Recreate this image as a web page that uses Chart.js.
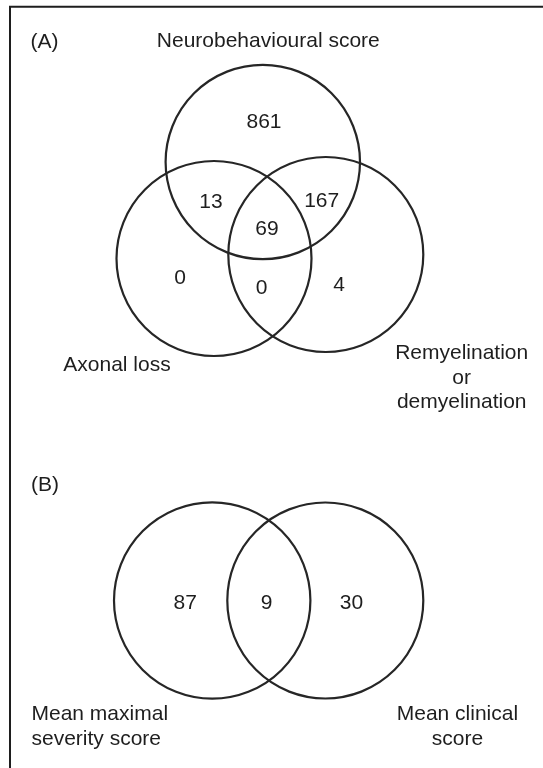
<!DOCTYPE html>
<html>
<head>
<meta charset="utf-8">
<script src="https://cdn.jsdelivr.net/npm/chart.js@4/dist/chart.umd.min.js"></script>
<style>
body { margin: 0; background: #fff; }
canvas { display: block; }
</style>
</head>
<body>
<canvas id="venn" width="543" height="768"></canvas>
<script>
// Panel A: counts per region
const regionsA = ['N only', 'N + A', 'N + R', 'N + A + R', 'A only', 'A + R', 'R only'];
const countsA = [861, 13, 167, 69, 0, 0, 4];
const setsA = ['Neurobehavioural score', 'Axonal loss', 'Remyelination\nor\ndemyelination'];

// Panel B: counts per region
const regionsB = ['MMS only', 'MMS + MCS', 'MCS only'];
const countsB = [87, 9, 30];
const setsB = ['Mean maximal\nseverity score', 'Mean clinical\nscore'];

const panelTitles = ['(A)', '(B)'];

// layout, in scale units (scales map 1:1 onto the page)
const circlesA = [{x: 262.8, y: 162, r: 97.2}, {x: 214, y: 258.5, r: 97.5}, {x: 325.8, y: 254.5, r: 97.5}];
const circlesB = [{x: 212.2, y: 600.5, r: 98.2}, {x: 325.3, y: 600.5, r: 98}];
// label anchors are the middle of the capital height
const countPosA = [[264, 120.7], [211, 200.7], [321.7, 199.3], [267, 227.3], [180, 276.7], [261.7, 286], [339, 283.3]];
const countPosB = [[185.2, 601.7], [266.6, 601.7], [351.5, 601.7]];
const setPosA = [[268.3, 39.7], [117, 363.7], [461.7, 351.2]];
const setPosB = [[31.5, 712.2], [457.4, 712.2]];
const titlePos = [[44.5, 40], [45, 483.3]];

const ink = '#1e1e1e';
const fontSize = 21;
const font = fontSize + 'px "Liberation Sans", Arial, sans-serif';
const capHalf = 0.716 * fontSize / 2;

const toPoints = (pos) => pos.map(p => ({x: p[0], y: p[1]}));

const textDataset = (pos, texts, extra) => Object.assign({
    type: 'scatter',
    data: toPoints(pos),
    texts: texts,
    pointRadius: 0,
    lineHeight: 25,
    clip: false
}, extra || {});

// draws the labels at the points the scales gave to each text dataset
const textPlugin = {
    id: 'vennText',
    afterDatasetsDraw(chart) {
        const ctx = chart.ctx;
        chart.data.datasets.forEach((ds, i) => {
            if (!ds.texts) return;
            chart.getDatasetMeta(i).data.forEach((pt, j) => {
                const lines = String(ds.texts[j]).split('\n');
                ctx.save();
                ctx.font = font;
                ctx.fillStyle = ink;
                ctx.textAlign = ds.aligns ? ds.aligns[j] : 'center';
                ctx.textBaseline = 'alphabetic';
                lines.forEach((ln, k) => ctx.fillText(ln, pt.x, pt.y + capHalf + k * ds.lineHeight));
                ctx.restore();
            });
        });
    }
};

// the frame round the figure (open at right and bottom, as cut)
const framePlugin = {
    id: 'frame',
    beforeDraw(chart) {
        const ctx = chart.ctx;
        ctx.save();
        ctx.fillStyle = '#fff';
        ctx.fillRect(0, 0, chart.width, chart.height);
        ctx.strokeStyle = ink;
        ctx.lineWidth = 2;
        ctx.beginPath();
        ctx.moveTo(chart.width, 6.8);
        ctx.lineTo(10, 6.8);
        ctx.lineTo(10, chart.height);
        ctx.stroke();
        ctx.restore();
    }
};

const circleDataset = (circles) => ({
    type: 'bubble',
    data: circles,
    backgroundColor: 'rgba(0,0,0,0)',
    borderColor: '#262626',
    borderWidth: 2.2,
    hoverRadius: 0,
    clip: false
});

new Chart(document.getElementById('venn'), {
    type: 'bubble',
    data: {
        datasets: [
            circleDataset(circlesA),
            circleDataset(circlesB),
            textDataset(countPosA, countsA),
            textDataset(countPosB, countsB),
            textDataset(setPosA, setsA, {lineHeight: 24.8}),
            textDataset(setPosB, setsB, {lineHeight: 25.7, aligns: ['left', 'center']}),
            textDataset(titlePos, panelTitles)
        ]
    },
    options: {
        responsive: false,
        animation: false,
        events: [],
        layout: { padding: 0, autoPadding: false },
        plugins: {
            legend: { display: false },
            tooltip: { enabled: false }
        },
        scales: {
            x: { type: 'linear', min: 0, max: 543, display: false },
            y: { type: 'linear', min: 0, max: 768, reverse: true, display: false }
        }
    },
    plugins: [framePlugin, textPlugin]
});
</script>
</body>
</html>
